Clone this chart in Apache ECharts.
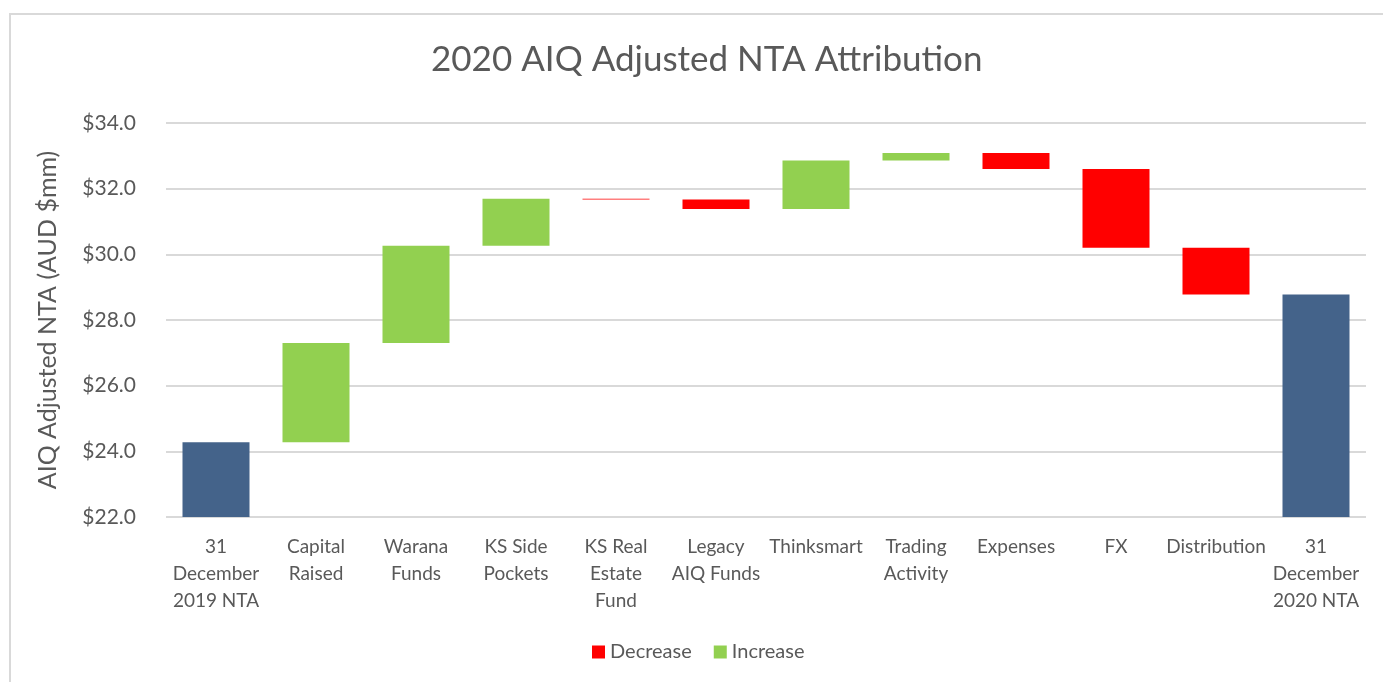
<!DOCTYPE html>
<html>
<head>
<meta charset="utf-8">
<title>2020 AIQ Adjusted NTA Attribution</title>
<script src="https://cdn.jsdelivr.net/npm/echarts@6/dist/echarts.min.js"></script>
<style>
  html, body { margin: 0; padding: 0; background: #fff; overflow: hidden; }
  #frame {
    position: absolute; left: 9px; top: 13px; width: 1400px; height: 700px;
    border-left: 2px solid #d9d9d9; border-top: 2px solid #d9d9d9;
  }
  #chart { position: absolute; left: 0; top: 0; width: 1383px; height: 682px; }
</style>
</head>
<body>
<div id="frame"></div>
<div id="chart"></div>
<script>
// 数据 (AUD $mm)
const categories = [
    '31\nDecember\n2019 NTA', 'Capital\nRaised', 'Warana\nFunds', 'KS Side\nPockets',
    'KS Real\nEstate\nFund', 'Legacy\nAIQ Funds', 'Thinksmart', 'Trading\nActivity',
    'Expenses', 'FX', 'Distribution', '31\nDecember\n2020 NTA'
];
const startNTA = 24.28;
const endNTA = 28.78;
// 中间各项变动 (正 = Increase, 负 = Decrease)
const changes = [3.02, 2.96, 1.43, -0.02, -0.29, 1.48, 0.23, -0.49, -2.40, -1.42];
const yTicks = { min: 22, max: 34, interval: 2 };

// 瀑布图: 透明底座 + 增/减 + 总计
const baseData = ['-'];
const decData = ['-'];
const incData = ['-'];
const totalData = [startNTA];
let running = startNTA;
changes.forEach(c => {
    if (c >= 0) {
        baseData.push(running);
        incData.push(c);
        decData.push('-');
    } else {
        baseData.push(running + c);
        decData.push(-c);
        incData.push('-');
    }
    totalData.push('-');
    running += c;
});
baseData.push('-');
decData.push('-');
incData.push('-');
totalData.push(endNTA);

const chart = echarts.init(document.getElementById('chart'));
const FONT = 'Lato';
const GREY = '#595959';

chart.setOption({
    animation: false,
    textStyle: { fontFamily: FONT },
    title: {
        text: '2020 AIQ Adjusted NTA Attribution',
        left: 426, top: 37,
        textStyle: { fontFamily: FONT, fontSize: 35, fontWeight: 'normal', color: GREY }
    },
    legend: {
        data: ['Decrease', 'Increase'],
        bottom: 15, left: 587,
        itemWidth: 13, itemHeight: 13, itemGap: 22,
        icon: 'rect',
        textStyle: { fontFamily: FONT, fontSize: 20, color: GREY }
    },
    grid: { left: 166, right: 17, top: 123, bottom: 165 },
    xAxis: {
        type: 'category',
        data: categories,
        axisLine: { show: false },
        axisTick: { show: false },
        axisLabel: {
            interval: 0, margin: 16, lineHeight: 27,
            fontFamily: FONT, fontSize: 19, color: GREY
        }
    },
    yAxis: {
        type: 'value',
        min: yTicks.min, max: yTicks.max, interval: yTicks.interval,
        name: 'AIQ Adjusted NTA (AUD $mm)',
        nameLocation: 'middle', nameGap: 106, nameRotate: 90,
        nameTextStyle: { fontFamily: FONT, fontSize: 25, color: GREY },
        axisLine: { show: false },
        axisTick: { show: false },
        axisLabel: {
            margin: 30, fontFamily: FONT, fontSize: 21, color: GREY,
            formatter: v => '$' + v.toFixed(1)
        },
        splitLine: { lineStyle: { color: '#d9d9d9', width: 2 } }
    },
    series: [
        {
            name: 'Base', type: 'bar', stack: 'wf', data: baseData,
            barWidth: '67%', silent: true,
            itemStyle: { color: 'transparent' }
        },
        {
            name: 'Decrease', type: 'bar', stack: 'wf', data: decData,
            itemStyle: { color: '#ff0000' }
        },
        {
            name: 'Increase', type: 'bar', stack: 'wf', data: incData,
            itemStyle: { color: '#92d050' }
        },
        {
            name: 'Total', type: 'bar', stack: 'wf', data: totalData,
            itemStyle: { color: '#44638a' }
        }
    ]
});
</script>
</body>
</html>
